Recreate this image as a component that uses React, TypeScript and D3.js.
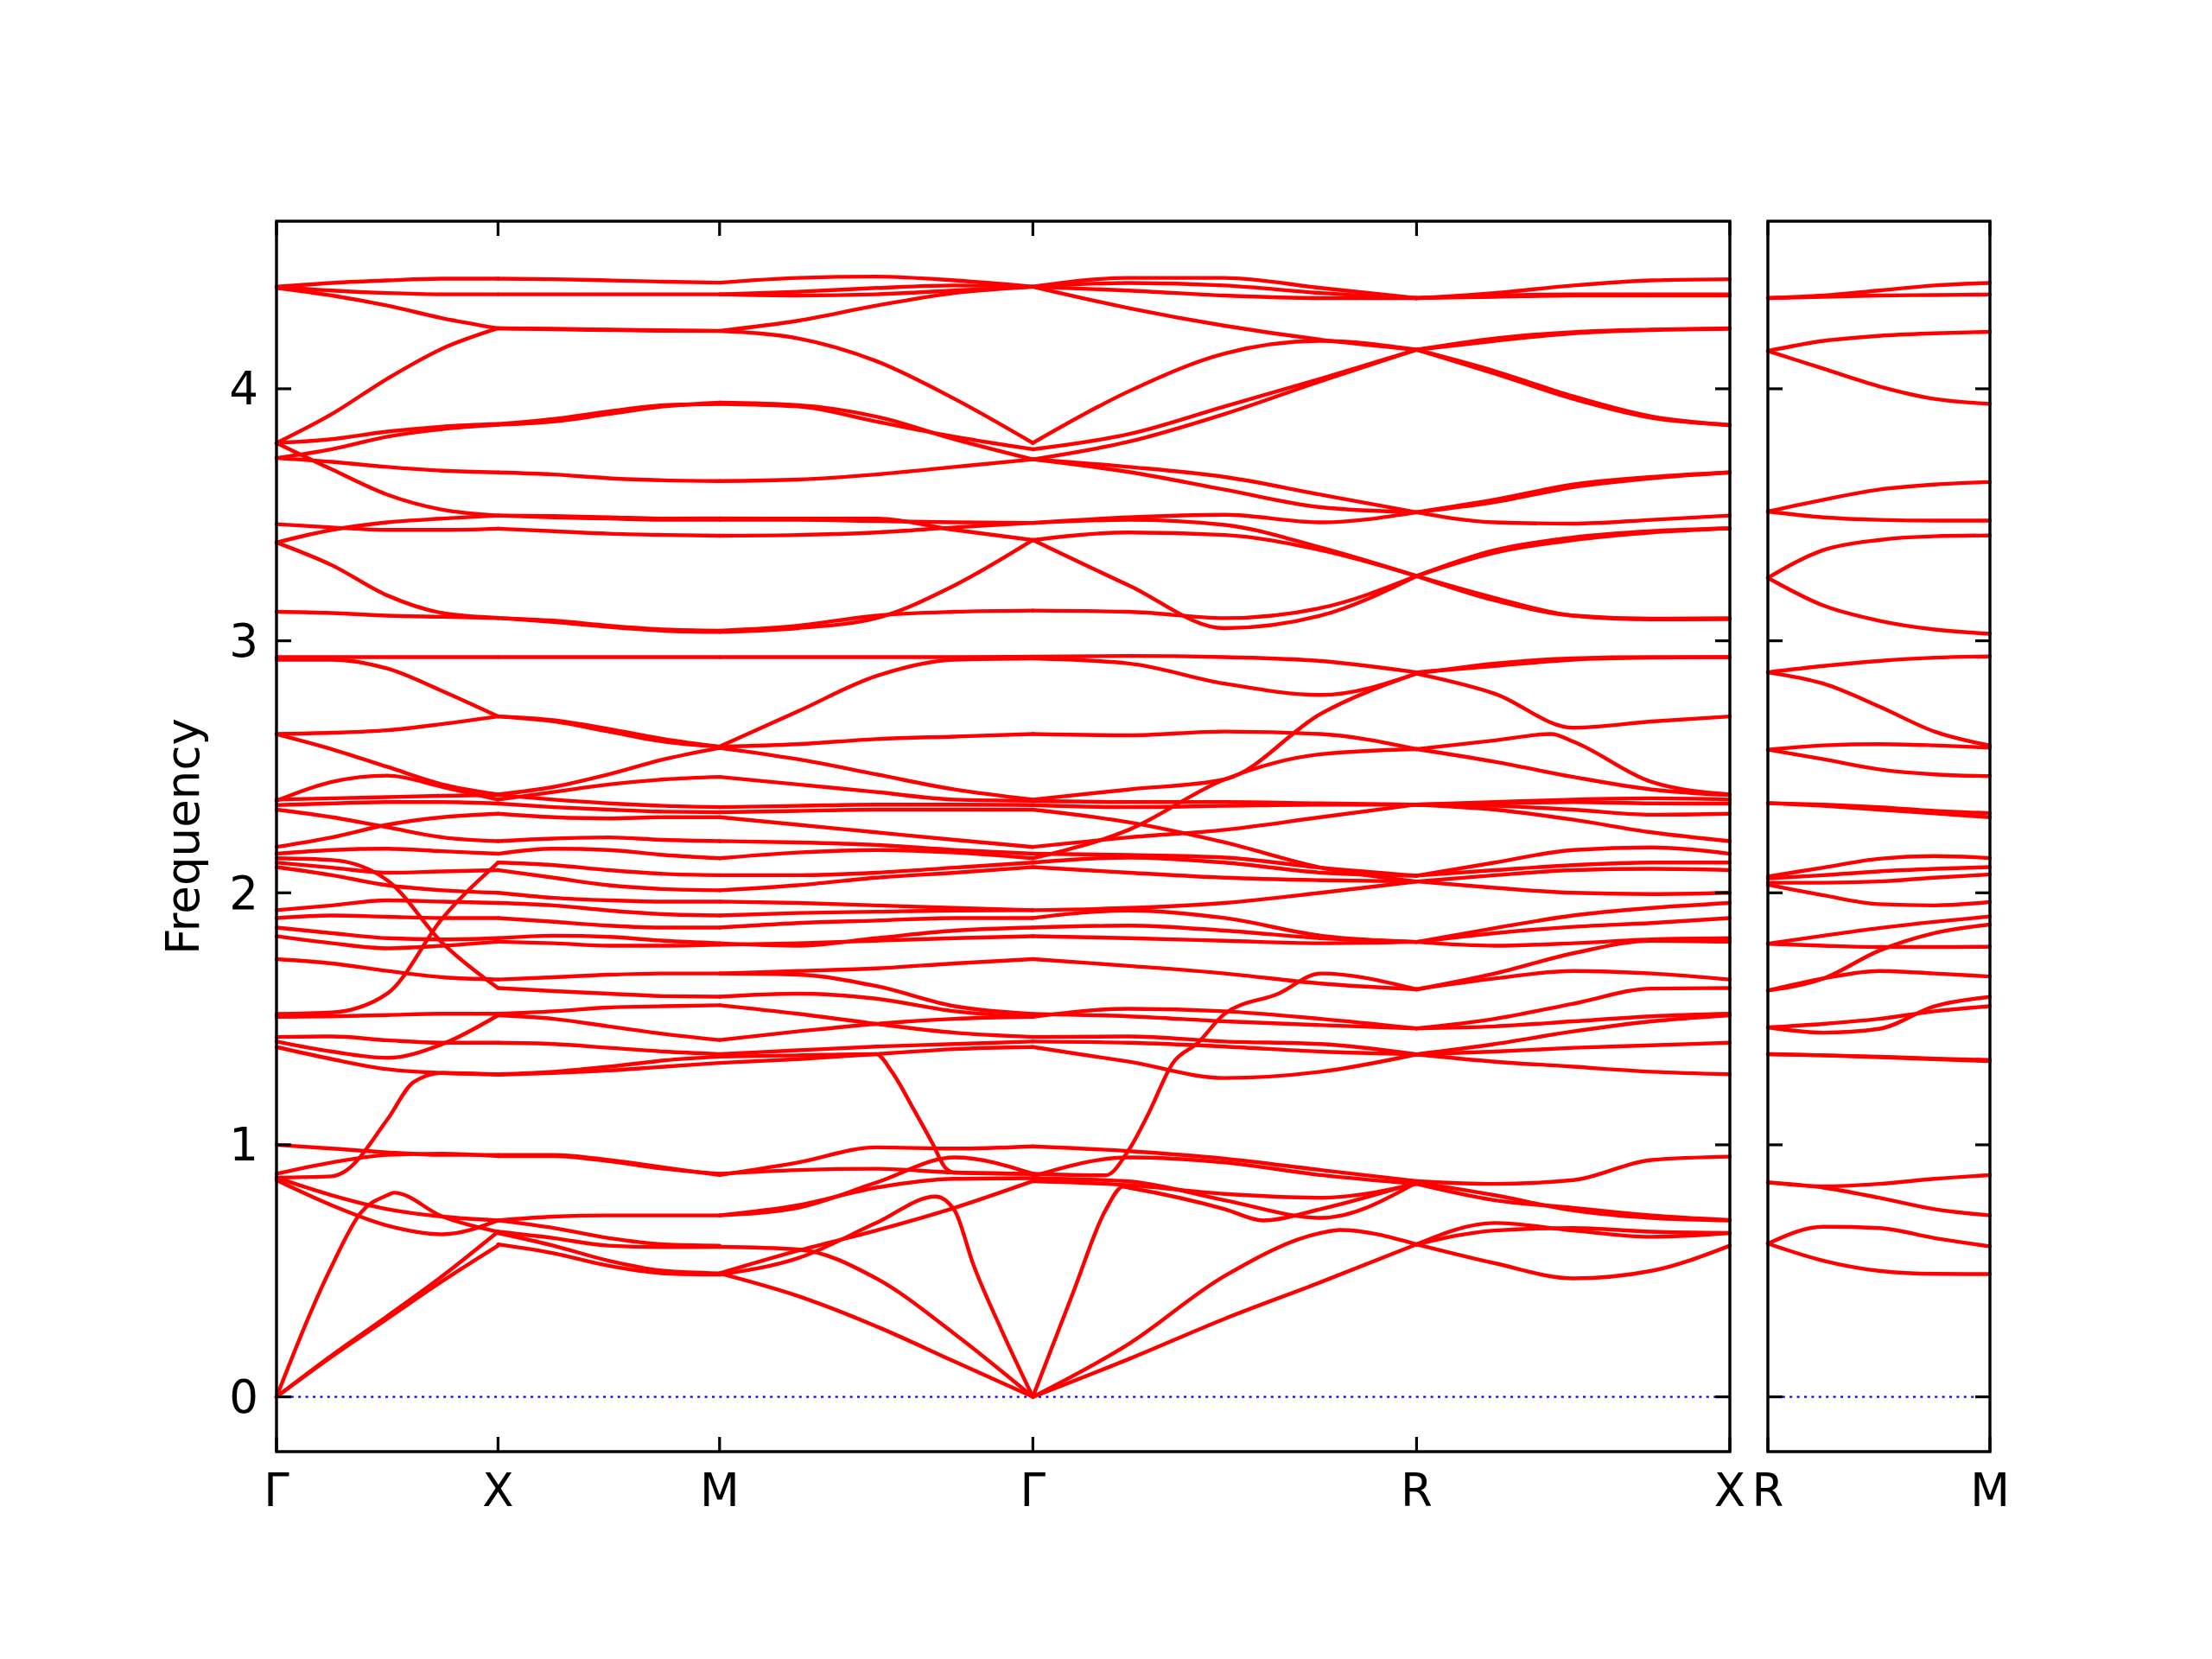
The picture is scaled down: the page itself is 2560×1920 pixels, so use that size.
import React from 'react';
import * as d3 from 'd3';

type Band = number[] | { v: number[]; extra: [number, number][] };

// fractional positions along each path segment at which values were read
const T_KNOTS = [0, 0.25, 0.5, 0.75, 1];

const LEFT_POINT_LABELS = ['Γ', 'X', 'M', 'Γ', 'R', 'X'];
const LEFT_SEGMENT_LENGTHS = [1.0, 1.0, 1.4142, 1.7321, 1.4142];
const RIGHT_POINT_LABELS = ['R', 'M'];
const RIGHT_SEGMENT_LENGTHS = [1.0];
const Y_TICKS = [0, 1, 2, 3, 4];
const Y_DOMAIN: [number, number] = [-0.2174, 4.665];
const Y_LABEL = 'Frequency';

// ---- Γ → X ----
const bandsGX: Band[] = [
  [0, 0.16, 0.31, 0.46, 0.6],
  [0, 0.165, 0.32, 0.48, 0.655],
  { v: [0, 0.52, 0.8, 0.715, 0.655], extra: [[0.38, 0.73], [0.53, 0.81]] },
  [0.86, 0.76, 0.68, 0.645, 0.7],
  [0.87, 0.8, 0.745, 0.715, 0.7],
  [1.0, 0.985, 0.97, 0.96, 0.96],
  [0.885, 0.93, 0.96, 0.965, 0.955],
  { v: [0.87, 0.875, 1.1, 1.285, 1.278], extra: [[0.3, 0.89], [0.62, 1.25]] },
  [1.388, 1.34, 1.3, 1.285, 1.28],
  [1.41, 1.37, 1.345, 1.4, 1.514],
  [1.428, 1.43, 1.415, 1.405, 1.405],
  [1.508, 1.51, 1.515, 1.52, 1.52],
  [1.519, 1.525, 1.6, 1.9, 2.12],
  [1.737, 1.72, 1.69, 1.665, 1.656],
  [1.828, 1.8, 1.78, 1.79, 1.806],
  [1.862, 1.84, 1.82, 1.815, 1.82],
  [1.9, 1.91, 1.905, 1.9, 1.9],
  [1.931, 1.95, 1.97, 1.965, 1.96],
  [2.102, 2.07, 2.03, 2.01, 2.0],
  [2.12, 2.1, 2.08, 2.085, 2.09],
  [2.137, 2.13, 2.05, 1.8, 1.622],
  [2.155, 2.17, 2.175, 2.165, 2.155],
  [2.182, 2.22, 2.27, 2.3, 2.314],
  [2.33, 2.3, 2.26, 2.22, 2.205],
  [2.348, 2.355, 2.36, 2.36, 2.354],
  [2.37, 2.375, 2.38, 2.385, 2.388],
  [2.365, 2.44, 2.465, 2.42, 2.37],
  [2.63, 2.57, 2.5, 2.43, 2.39],
  [2.63, 2.635, 2.645, 2.67, 2.7],
  [2.925, 2.925, 2.89, 2.8, 2.7],
  [2.935, 2.935, 2.935, 2.935, 2.935],
  [3.115, 3.11, 3.1, 3.095, 3.09],
  [3.39, 3.3, 3.18, 3.11, 3.091],
  [3.463, 3.45, 3.44, 3.44, 3.445],
  [3.39, 3.44, 3.47, 3.485, 3.497],
  [3.785, 3.68, 3.58, 3.52, 3.497],
  [3.725, 3.71, 3.69, 3.675, 3.668],
  [3.725, 3.76, 3.81, 3.84, 3.857],
  [3.785, 3.8, 3.83, 3.85, 3.86],
  [3.785, 3.9, 4.04, 4.16, 4.24],
  [4.4, 4.37, 4.33, 4.28, 4.24],
  [4.405, 4.39, 4.38, 4.375, 4.375],
  [4.405, 4.42, 4.43, 4.437, 4.437],
];

// ---- X → M ----
const bandsXM: Band[] = [
  [0.605, 0.57, 0.52, 0.49, 0.485],
  [0.65, 0.6, 0.54, 0.5, 0.49],
  [0.655, 0.63, 0.6, 0.594, 0.595],
  [0.7, 0.67, 0.63, 0.605, 0.6],
  [0.7, 0.715, 0.72, 0.72, 0.72],
  [0.96, 0.96, 0.94, 0.91, 0.88],
  [0.955, 0.955, 0.935, 0.905, 0.885],
  [1.278, 1.285, 1.295, 1.31, 1.325],
  [1.28, 1.29, 1.31, 1.335, 1.35],
  [1.405, 1.4, 1.385, 1.37, 1.36],
  [1.514, 1.5, 1.47, 1.44, 1.416],
  [1.52, 1.53, 1.545, 1.55, 1.554],
  [1.622, 1.61, 1.6, 1.59, 1.588],
  [1.656, 1.665, 1.675, 1.68, 1.68],
  [1.806, 1.8, 1.79, 1.79, 1.794],
  [1.82, 1.83, 1.825, 1.81, 1.8],
  [1.9, 1.885, 1.87, 1.862, 1.862],
  [1.96, 1.95, 1.93, 1.915, 1.91],
  [2.0, 1.98, 1.97, 1.965, 1.965],
  [2.09, 2.06, 2.03, 2.015, 2.01],
  [2.12, 2.11, 2.09, 2.075, 2.07],
  [2.155, 2.175, 2.17, 2.15, 2.137],
  [2.205, 2.215, 2.22, 2.21, 2.205],
  [2.314, 2.3, 2.295, 2.3, 2.3],
  [2.354, 2.34, 2.33, 2.322, 2.32],
  [2.388, 2.37, 2.355, 2.345, 2.34],
  [2.37, 2.4, 2.43, 2.45, 2.46],
  [2.39, 2.42, 2.47, 2.53, 2.575],
  [2.7, 2.685, 2.65, 2.61, 2.58],
  [2.7, 2.68, 2.64, 2.6, 2.58],
  [2.935, 2.935, 2.935, 2.935, 2.935],
  [3.09, 3.08, 3.06, 3.045, 3.04],
  [3.091, 3.075, 3.055, 3.04, 3.035],
  [3.445, 3.435, 3.425, 3.42, 3.417],
  [3.497, 3.49, 3.485, 3.48, 3.48],
  [3.497, 3.495, 3.49, 3.485, 3.486],
  [3.668, 3.66, 3.645, 3.637, 3.634],
  [3.857, 3.87, 3.9, 3.93, 3.945],
  [3.86, 3.88, 3.91, 3.935, 3.94],
  [4.24, 4.236, 4.233, 4.23, 4.229],
  [4.24, 4.238, 4.235, 4.232, 4.23],
  [4.375, 4.375, 4.375, 4.375, 4.375],
  [4.437, 4.435, 4.43, 4.425, 4.421],
];

// ---- M → Γ ----
const bandsMG: Band[] = [
  [0.49, 0.4, 0.28, 0.14, 0],
  [0.595, 0.585, 0.47, 0.25, 0],
  { v: [0.485, 0.55, 0.69, 0.74, 0], extra: [[0.69, 0.795], [0.81, 0.525], [0.9, 0.265]] },
  [0.49, 0.58, 0.66, 0.75, 0.856],
  [0.72, 0.76, 0.83, 0.865, 0.868],
  [0.72, 0.75, 0.85, 0.95, 0.885],
  [0.88, 0.93, 0.99, 0.985, 0.994],
  [0.885, 0.9, 0.905, 0.89, 0.885],
  { v: [1.35, 1.355, 1.36, 0.89, 0.885], extra: [[0.55, 1.29], [0.62, 1.14], [0.68, 1.005], [0.72, 0.91]] },
  [1.325, 1.34, 1.36, 1.38, 1.388],
  [1.36, 1.375, 1.39, 1.4, 1.41],
  [1.554, 1.52, 1.48, 1.445, 1.428],
  [1.416, 1.45, 1.48, 1.5, 1.508],
  [1.588, 1.6, 1.58, 1.53, 1.508],
  [1.68, 1.675, 1.63, 1.55, 1.519],
  [1.68, 1.69, 1.7, 1.72, 1.737],
  [1.794, 1.8, 1.81, 1.82, 1.828],
  [1.8, 1.79, 1.82, 1.85, 1.862],
  [1.862, 1.88, 1.89, 1.9, 1.9],
  [1.91, 1.92, 1.925, 1.93, 1.931],
  [1.965, 1.96, 1.95, 1.94, 1.931],
  [2.01, 2.03, 2.06, 2.08, 2.102],
  [2.07, 2.07, 2.08, 2.1, 2.12],
  [2.137, 2.16, 2.17, 2.16, 2.137],
  [2.205, 2.2, 2.19, 2.17, 2.155],
  [2.3, 2.27, 2.24, 2.21, 2.182],
  [2.32, 2.325, 2.33, 2.33, 2.33],
  [2.34, 2.345, 2.35, 2.35, 2.348],
  [2.46, 2.43, 2.4, 2.37, 2.365],
  [2.575, 2.53, 2.47, 2.41, 2.37],
  [2.58, 2.59, 2.61, 2.62, 2.63],
  [2.58, 2.72, 2.86, 2.925, 2.93],
  [2.935, 2.935, 2.935, 2.935, 2.937],
  [3.04, 3.06, 3.1, 3.115, 3.12],
  [3.035, 3.05, 3.09, 3.22, 3.4],
  [3.417, 3.42, 3.43, 3.45, 3.468],
  [3.48, 3.48, 3.475, 3.47, 3.468],
  [3.486, 3.485, 3.485, 3.44, 3.4],
  [3.634, 3.64, 3.66, 3.69, 3.72],
  [3.945, 3.935, 3.89, 3.8, 3.72],
  [3.94, 3.93, 3.87, 3.81, 3.76],
  [4.229, 4.2, 4.11, 3.96, 3.785],
  [4.23, 4.27, 4.33, 4.38, 4.405],
  [4.375, 4.37, 4.375, 4.39, 4.405],
  [4.375, 4.385, 4.4, 4.41, 4.405],
  [4.421, 4.44, 4.445, 4.43, 4.405],
];

// ---- Γ → R ----
const bandsGR: Band[] = [
  { v: [0, 0.83, 0.745, 0.745, 0.85], extra: [[0.104, 0.41], [0.19, 0.742], [0.235, 0.834], [0.6, 0.7]] },
  { v: [0, 0.21, 0.48, 0.65, 0.605], extra: [[0.8, 0.662]] },
  [0, 0.15, 0.31, 0.455, 0.605],
  [0.994, 0.975, 0.945, 0.9, 0.856],
  [0.875, 0.95, 0.93, 0.88, 0.845],
  [0.856, 0.84, 0.805, 0.79, 0.845],
  [0.868, 0.855, 0.78, 0.71, 0.85],
  { v: [0.885, 0.98, 1.52, 1.68, 1.617], extra: [[0.19, 0.879], [0.3, 1.12], [0.365, 1.325], [0.43, 1.405], [0.64, 1.6]] },
  [1.388, 1.33, 1.265, 1.29, 1.359],
  [1.41, 1.405, 1.39, 1.37, 1.359],
  [1.428, 1.43, 1.41, 1.4, 1.359],
  [1.508, 1.54, 1.53, 1.5, 1.462],
  [1.519, 1.51, 1.49, 1.475, 1.462],
  [1.737, 1.71, 1.68, 1.64, 1.617],
  [1.828, 1.82, 1.81, 1.8, 1.805],
  [1.862, 1.87, 1.85, 1.82, 1.805],
  [1.9, 1.93, 1.9, 1.83, 1.805],
  [1.931, 1.94, 1.96, 2.0, 2.045],
  [2.102, 2.08, 2.06, 2.05, 2.045],
  [2.12, 2.14, 2.12, 2.08, 2.068],
  [2.137, 2.25, 2.45, 2.55, 2.57],
  [2.155, 2.15, 2.14, 2.1, 2.068],
  [2.182, 2.22, 2.25, 2.3, 2.35],
  [2.33, 2.28, 2.2, 2.1, 2.045],
  [2.348, 2.34, 2.345, 2.35, 2.35],
  [2.365, 2.36, 2.36, 2.355, 2.35],
  [2.37, 2.41, 2.45, 2.71, 2.87],
  [2.63, 2.625, 2.64, 2.63, 2.57],
  [2.93, 2.91, 2.83, 2.785, 2.87],
  [2.937, 2.94, 2.935, 2.92, 2.875],
  [3.12, 3.115, 3.09, 3.13, 3.257],
  [3.4, 3.22, 3.05, 3.1, 3.257],
  [3.4, 3.43, 3.42, 3.36, 3.257],
  [3.468, 3.48, 3.46, 3.37, 3.257],
  [3.468, 3.49, 3.5, 3.47, 3.51],
  [3.72, 3.69, 3.65, 3.58, 3.51],
  [3.72, 3.67, 3.6, 3.53, 3.51],
  [3.72, 3.79, 3.9, 4.03, 4.155],
  [3.76, 3.82, 3.93, 4.04, 4.155],
  [3.785, 3.99, 4.14, 4.19, 4.155],
  [4.405, 4.32, 4.25, 4.195, 4.155],
  [4.405, 4.39, 4.37, 4.36, 4.36],
  [4.405, 4.42, 4.41, 4.38, 4.36],
  [4.405, 4.44, 4.44, 4.4, 4.36],
];

// ---- R → X ----
const bandsRX: Band[] = [
  [0.856, 0.845, 0.86, 0.94, 0.953],
  [0.845, 0.78, 0.75, 0.72, 0.702],
  [0.85, 0.8, 0.74, 0.71, 0.7],
  [0.605, 0.69, 0.66, 0.635, 0.65],
  [0.605, 0.53, 0.47, 0.5, 0.6],
  [0.605, 0.66, 0.67, 0.655, 0.65],
  [1.359, 1.33, 1.31, 1.29, 1.28],
  [1.359, 1.37, 1.385, 1.395, 1.405],
  [1.359, 1.4, 1.45, 1.49, 1.514],
  [1.462, 1.47, 1.49, 1.51, 1.52],
  [1.462, 1.5, 1.56, 1.62, 1.622],
  [1.617, 1.66, 1.69, 1.68, 1.656],
  [1.617, 1.68, 1.76, 1.81, 1.806],
  [1.805, 1.79, 1.8, 1.815, 1.82],
  [1.805, 1.84, 1.865, 1.88, 1.9],
  [1.805, 1.86, 1.91, 1.94, 1.96],
  [2.045, 2.02, 2.0, 1.995, 2.0],
  [2.045, 2.07, 2.09, 2.095, 2.09],
  [2.068, 2.09, 2.11, 2.12, 2.12],
  [2.068, 2.12, 2.17, 2.18, 2.155],
  [2.35, 2.33, 2.29, 2.24, 2.205],
  [2.35, 2.345, 2.33, 2.31, 2.314],
  [2.35, 2.355, 2.36, 2.355, 2.354],
  [2.35, 2.36, 2.37, 2.375, 2.37],
  [2.57, 2.52, 2.46, 2.41, 2.388],
  { v: [2.57, 2.605, 2.6, 2.44, 2.39], extra: [[0.43, 2.63]] },
  [2.87, 2.79, 2.655, 2.68, 2.7],
  [2.87, 2.91, 2.93, 2.935, 2.935],
  [2.875, 2.9, 2.925, 2.933, 2.935],
  [3.257, 3.17, 3.1, 3.085, 3.086],
  [3.257, 3.16, 3.1, 3.088, 3.09],
  [3.257, 3.36, 3.41, 3.435, 3.446],
  [3.257, 3.35, 3.4, 3.43, 3.446],
  [3.51, 3.47, 3.465, 3.48, 3.497],
  [3.51, 3.56, 3.62, 3.65, 3.668],
  [3.51, 3.55, 3.61, 3.645, 3.668],
  [4.155, 4.07, 3.97, 3.89, 3.855],
  [4.155, 4.06, 3.96, 3.885, 3.857],
  [4.155, 4.2, 4.225, 4.235, 4.24],
  [4.155, 4.19, 4.22, 4.233, 4.238],
  [4.36, 4.365, 4.37, 4.37, 4.37],
  [4.36, 4.37, 4.375, 4.375, 4.375],
  [4.36, 4.38, 4.41, 4.43, 4.435],
];

// ---- R → M (right panel) ----
const bandsRM: Band[] = [
  [4.36, 4.37, 4.39, 4.41, 4.42],
  [4.36, 4.365, 4.37, 4.372, 4.374],
  [4.15, 4.19, 4.21, 4.22, 4.226],
  [4.15, 4.08, 4.01, 3.96, 3.94],
  [3.513, 3.56, 3.6, 3.62, 3.63],
  [3.513, 3.49, 3.48, 3.477, 3.477],
  [3.25, 3.36, 3.4, 3.415, 3.418],
  [3.25, 3.14, 3.08, 3.045, 3.028],
  [2.875, 2.9, 2.92, 2.933, 2.938],
  [2.875, 2.83, 2.74, 2.64, 2.584],
  [2.568, 2.585, 2.59, 2.585, 2.576],
  [2.568, 2.53, 2.49, 2.47, 2.463],
  [2.356, 2.35, 2.34, 2.325, 2.316],
  [2.356, 2.345, 2.33, 2.315, 2.3],
  [2.065, 2.1, 2.135, 2.146, 2.138],
  [2.057, 2.07, 2.085, 2.095, 2.102],
  [2.04, 2.04, 2.045, 2.06, 2.073],
  [2.032, 1.99, 1.955, 1.95, 1.963],
  [1.798, 1.83, 1.86, 1.885, 1.906],
  [1.798, 1.79, 1.785, 1.785, 1.786],
  [1.612, 1.66, 1.77, 1.84, 1.874],
  [1.612, 1.66, 1.69, 1.68, 1.668],
  [1.466, 1.48, 1.5, 1.53, 1.55],
  [1.466, 1.445, 1.46, 1.55, 1.587],
  [1.36, 1.355, 1.35, 1.342, 1.337],
  [1.36, 1.355, 1.348, 1.34, 1.332],
  [0.851, 0.835, 0.845, 0.865, 0.88],
  [0.851, 0.83, 0.79, 0.745, 0.72],
  [0.608, 0.675, 0.67, 0.63, 0.597],
  [0.608, 0.54, 0.5, 0.488, 0.487],
];

const LEFT_SEGMENTS = [bandsGX, bandsXM, bandsMG, bandsGR, bandsRX];
const RIGHT_SEGMENTS = [bandsRM];

function bandPoints(b: Band): [number, number][] {
  const v = Array.isArray(b) ? b : b.v;
  const extra = Array.isArray(b) ? [] : b.extra;
  const pts: [number, number][] = T_KNOTS.map((t, i) => [t, v[i]] as [number, number]).concat(extra);
  pts.sort((a, c) => a[0] - c[0]);
  return pts;
}

const FONT = '"DejaVu Sans", "Liberation Sans", sans-serif';
const FS = 53;
const TICK = 17;
const SPINE_W = 3.4;

function Panel(props: {
  x0: number; x1: number; top: number; bottom: number;
  labels: string[]; lengths: number[]; segments: Band[][];
  y: d3.ScaleLinear<number, number>; showYLabels: boolean;
}) {
  const { x0, x1, top, bottom, labels, lengths, segments, y, showYLabels } = props;
  const cum = [0];
  lengths.forEach((l) => cum.push(cum[cum.length - 1] + l));
  const x = d3.scaleLinear().domain([0, cum[cum.length - 1]]).range([x0, x1]);
  const line = d3
    .line<[number, number]>()
    .x((d) => x(d[0]))
    .y((d) => y(d[1]))
    .curve(d3.curveMonotoneX);

  const paths: string[] = [];
  segments.forEach((bands, si) => {
    bands.forEach((b) => {
      const pts = bandPoints(b).map(([t, f]) => [cum[si] + t * lengths[si], f] as [number, number]);
      const d = line(pts);
      if (d) paths.push(d);
    });
  });

  const y0 = y(0);
  return (
    <g>
      <line x1={x0} x2={x1} y1={y0} y2={y0} stroke="#0000ff" strokeWidth={2.4} strokeDasharray="3 5.4" />
      <g fill="none" stroke="#ff0000" strokeWidth={4.4} strokeLinejoin="round" strokeLinecap="round">
        {paths.map((d, i) => (
          <path key={i} d={d} />
        ))}
      </g>
      <g stroke="#000" strokeWidth={3.2}>
        {Y_TICKS.map((t) => (
          <g key={'yt' + t}>
            <line x1={x0} x2={x0 + TICK} y1={y(t)} y2={y(t)} />
            <line x1={x1 - TICK} x2={x1} y1={y(t)} y2={y(t)} />
          </g>
        ))}
        {cum.map((c, i) => (
          <g key={'xt' + i}>
            <line x1={x(c)} x2={x(c)} y1={bottom} y2={bottom - TICK} />
            <line x1={x(c)} x2={x(c)} y1={top} y2={top + TICK} />
          </g>
        ))}
      </g>
      <rect x={x0} y={top} width={x1 - x0} height={bottom - top} fill="none" stroke="#000" strokeWidth={SPINE_W} />
      {showYLabels &&
        Y_TICKS.map((t) => (
          <text key={'yl' + t} x={x0 - 21} y={y(t)} dominantBaseline="central" textAnchor="end"
            fontFamily={FONT} fontSize={FS} fill="#000">
            {String(t)}
          </text>
        ))}
      {labels.map((lab, i) => (
        <text key={'xl' + i} x={x(cum[i])} y={1743} textAnchor="middle" fontFamily={FONT} fontSize={FS} fill="#000">
          {lab}
        </text>
      ))}
    </g>
  );
}

export default function App() {
  const W = 2560;
  const H = 1920;
  const top = 256;
  const bottom = 1680;
  const y = d3.scaleLinear().domain(Y_DOMAIN).range([bottom, top]);
  return (
    <svg width={W} height={H} viewBox={`0 0 ${W} ${H}`}
      style={{ position: 'absolute', left: 0, top: 0, display: 'block', background: '#fff' }}>
      <rect x={0} y={0} width={W} height={H} fill="#fff" />
      <Panel x0={320} x1={2002} top={top} bottom={bottom} labels={LEFT_POINT_LABELS}
        lengths={LEFT_SEGMENT_LENGTHS} segments={LEFT_SEGMENTS} y={y} showYLabels={true} />
      <Panel x0={2046} x1={2303} top={top} bottom={bottom} labels={RIGHT_POINT_LABELS}
        lengths={RIGHT_SEGMENT_LENGTHS} segments={RIGHT_SEGMENTS} y={y} showYLabels={false} />
      <text transform={`translate(230, 968) rotate(-90)`} textAnchor="middle" fontFamily={FONT}
        fontSize={FS} fill="#000">
        {Y_LABEL}
      </text>
    </svg>
  );
}
